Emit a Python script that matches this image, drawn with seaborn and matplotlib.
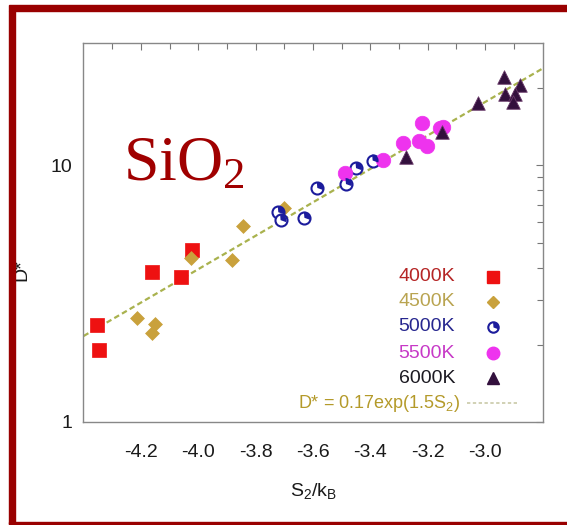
import numpy as np
import pandas as pd
import matplotlib
matplotlib.use("Agg")
import matplotlib.pyplot as plt
import seaborn as sns
from matplotlib.path import Path
from matplotlib.markers import MarkerStyle
from matplotlib.patches import Rectangle
from matplotlib.ticker import FixedLocator, NullFormatter, FixedFormatter

# ---------------- data ----------------
s2_4000 = [-4.353, -4.346, -4.162, -4.060, -4.022]
d_4000 = [2.38, 1.90, 3.85, 3.68, 4.68]

s2_4500 = [-4.212, -4.163, -4.151, -4.026, -3.882, -3.845, -3.701]
d_4500 = [2.55, 2.23, 2.41, 4.37, 4.28, 5.80, 6.81]

s2_5000 = [-3.721, -3.713, -3.630, -3.585, -3.485, -3.450, -3.392]
d_5000 = [6.57, 6.12, 6.25, 8.17, 8.46, 9.76, 10.45]

s2_5500 = [-3.489, -3.355, -3.285, -3.221, -3.229, -3.203, -3.157, -3.146]
d_5500 = [9.34, 10.52, 12.28, 14.68, 12.47, 11.95, 13.95, 14.08]

s2_6000 = [-3.276, -3.151, -3.024, -2.934, -2.930, -2.878, -2.896, -2.904]
d_6000 = [10.74, 13.54, 17.44, 22.13, 18.96, 20.65, 18.96, 17.60]

series_labels = ["4000K", "4500K", "5000K", "5500K", "6000K"]
fit_label = r"D* = 0.17exp(1.5S$\mathregular{_2}$)"
fit_prefactor = 1590.0
fit_rate = 1.5

x_ticks = [-4.2, -4.0, -3.8, -3.6, -3.4, -3.2, -3.0]
x_tick_labels = ["-4.2", "-4.0", "-3.8", "-3.6", "-3.4", "-3.2", "-3.0"]
y_ticks = [1, 10]
y_tick_labels = ["1", "10"]

# ---------------- style ----------------
sns.set_theme(style="white")
plt.rcParams["font.family"] = ["Liberation Sans", "DejaVu Sans"]

fig = plt.figure(figsize=(5.67, 5.25), dpi=100)
ax = fig.add_axes([83 / 567, 1 - 422 / 525, 460 / 567, 379 / 525])

col_red = "#ee1111"
col_gold = "#c9a13c"
col_blue = "#1c1c9c"
col_mag = "#ee33ee"
col_tri = "#33103d"

wedge = MarkerStyle(Path.wedge(-20, 95))

# fit line
xs_line = np.linspace(-4.40, -2.80, 200)
line_df = pd.DataFrame({"x": xs_line, "y": fit_prefactor * np.exp(fit_rate * xs_line)})
sns.lineplot(data=line_df, x="x", y="y", ax=ax, color="#a9b24e", lw=1.6,
             dashes=False, zorder=1)
ax.lines[-1].set_dashes([2.5, 1.5])

def df(x, y):
    return pd.DataFrame({"x": x, "y": y})

sns.scatterplot(data=df(s2_4000, d_4000), x="x", y="y", ax=ax, marker="s",
                s=110, color=col_red, edgecolor=col_red, linewidth=0.5, zorder=3)
sns.scatterplot(data=df(s2_4500, d_4500), x="x", y="y", ax=ax, marker="D",
                s=50, color=col_gold, edgecolor=col_gold, linewidth=0.5, zorder=3)
sns.scatterplot(data=df(s2_5000, d_5000), x="x", y="y", ax=ax, marker="o",
                s=75, facecolor="white", edgecolor=col_blue, linewidth=1.5, zorder=3)
sns.scatterplot(data=df(s2_5000, d_5000), x="x", y="y", ax=ax, marker=wedge,
                s=75, color=col_blue, edgecolor="none", linewidth=0, zorder=4)
sns.scatterplot(data=df(s2_5500, d_5500), x="x", y="y", ax=ax, marker="o",
                s=110, color=col_mag, edgecolor=col_mag, linewidth=0.5, zorder=3)
sns.scatterplot(data=df(s2_6000, d_6000), x="x", y="y", ax=ax, marker="^",
                s=95, color=col_tri, edgecolor="#6a3a6a", linewidth=0.6, zorder=5)

ax.set_yscale("log")
ax.set_xlim(-4.402, -2.798)
ax.set_ylim(1, 30)

ax.xaxis.set_major_locator(FixedLocator(x_ticks))
ax.xaxis.set_major_formatter(FixedFormatter(x_tick_labels))
ax.xaxis.set_minor_locator(FixedLocator([-4.3, -4.1, -3.9, -3.7, -3.5, -3.3, -3.1, -2.9]))
ax.yaxis.set_major_locator(FixedLocator(y_ticks))
ax.yaxis.set_major_formatter(FixedFormatter(y_tick_labels))
ax.yaxis.set_minor_locator(FixedLocator([2, 3, 4, 5, 6, 7, 8, 9, 20]))
ax.yaxis.set_minor_formatter(NullFormatter())

ax.tick_params(which="both", direction="in", top=True, right=True,
               color="#777777", width=0.8, labelsize=14, labelcolor="#1a1a1a")
ax.tick_params(which="major", length=5)
ax.tick_params(which="minor", length=4)
ax.tick_params(axis="x", which="major", pad=16)
ax.tick_params(axis="y", which="major", pad=8)

for sp in ax.spines.values():
    sp.set_color("#888888")
    sp.set_linewidth(1.0)

ax.set_xlabel(r"S$\mathregular{_2}$/k$\mathregular{_B}$", fontsize=14, color="#1a1a1a", labelpad=14)
ax.set_ylabel("D*", fontsize=14, color="#1a1a1a")
ax.yaxis.set_label_coords(-0.115, 0.40)

# legend drawn manually (gnuplot style, right-aligned labels)
leg_colors = ["#b52525", "#b9a451", "#27278f", "#c73ac7", "#1c1a22"]
leg_y = [0.383, 0.317, 0.251, 0.182, 0.116]
tx = 0.809
mx = 0.891
for lab, c, yy in zip(series_labels, leg_colors, leg_y):
    ax.text(tx, yy, lab, transform=ax.transAxes, ha="right", va="center",
            fontsize=14, color=c)
ax.plot([mx], [leg_y[0]], transform=ax.transAxes, marker="s", ms=8.5,
        color=col_red, ls="none", clip_on=False)
ax.plot([mx], [leg_y[1]], transform=ax.transAxes, marker="D", ms=6,
        color=col_gold, ls="none", clip_on=False)
ax.plot([mx], [leg_y[2]], transform=ax.transAxes, marker="o", ms=7.5,
        mfc="white", mec=col_blue, mew=1.5, ls="none", clip_on=False)
ax.plot([mx], [leg_y[2]], transform=ax.transAxes, marker=wedge, ms=7.5,
        color=col_blue, mec="none", ls="none", clip_on=False)
ax.plot([mx], [leg_y[3]], transform=ax.transAxes, marker="o", ms=9,
        color=col_mag, ls="none", clip_on=False)
ax.plot([mx], [leg_y[4]], transform=ax.transAxes, marker="^", ms=8,
        color=col_tri, ls="none", clip_on=False)
ax.text(tx + 0.01, 0.05, fit_label, transform=ax.transAxes, ha="right", va="center",
        fontsize=13, color="#b49a2a")
ax.plot([(467 - 83) / 460, (518 - 83) / 460], [0.05, 0.05], transform=ax.transAxes,
        color="#c9c9a8", lw=1.2, dashes=[2, 1.5])

# SiO2 label
fig.text(123 / 567, 1 - 180 / 525, r"$\mathregular{SiO_2}$",
         fontsize=46, color="#a00000", family=["Liberation Serif", "DejaVu Serif"],
         ha="left", va="baseline")

# dark red frame (top, left, bottom)
fig.patches.append(Rectangle((9 / 567, 1 - 11 / 525), 1 - 9 / 567, 6 / 525,
                             transform=fig.transFigure, color="#990000", zorder=10))
fig.patches.append(Rectangle((9 / 567, 1 - 524 / 525), 6 / 567, 513 / 525,
                             transform=fig.transFigure, color="#990000", zorder=10))
fig.patches.append(Rectangle((9 / 567, 1 - 524 / 525), 1 - 9 / 567, 2 / 525,
                             transform=fig.transFigure, color="#990000", zorder=10))

fig.savefig("out.png", dpi=100)
